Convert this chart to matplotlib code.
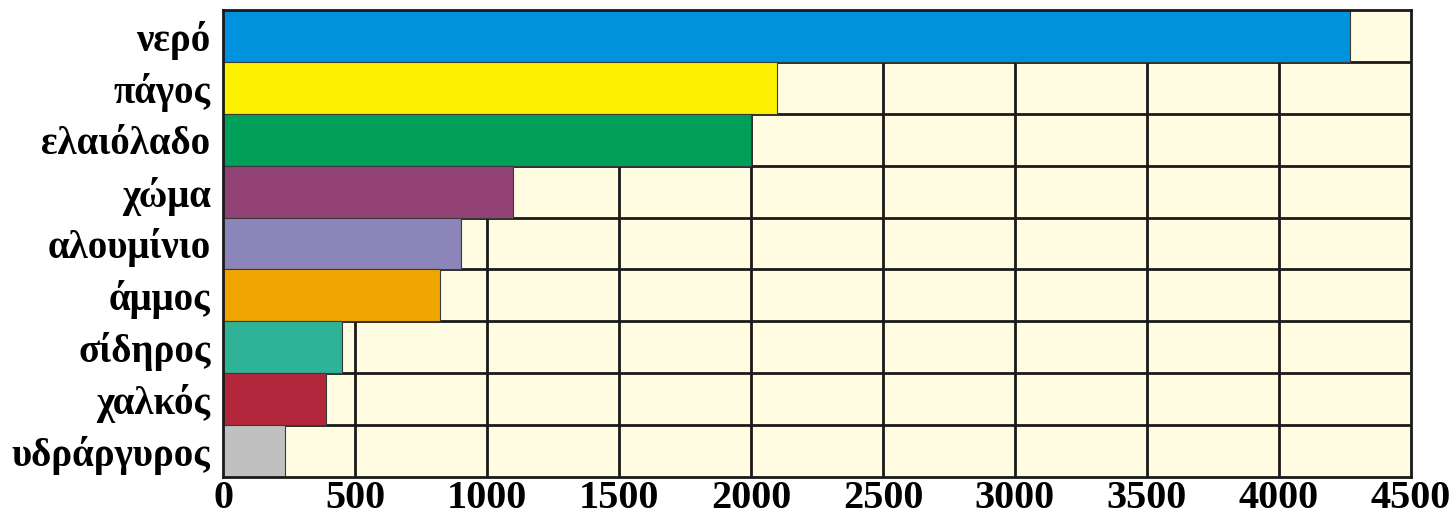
import matplotlib
matplotlib.use("Agg")
import matplotlib.pyplot as plt

materials = ["νερό", "πάγος", "ελαιόλαδο", "χώμα", "αλουμίνιο",
             "άμμος", "σίδηρος", "χαλκός", "υδράργυρος"]
values = [4270, 2100, 2000, 1100, 900, 820, 450, 390, 235]
colors = ["#0092DD", "#FFF200", "#00A05A", "#934275", "#8C85BA",
          "#F0A500", "#2EB396", "#B2253A", "#C0C0C0"]
xticks = [0, 500, 1000, 1500, 2000, 2500, 3000, 3500, 4000, 4500]

plt.rcParams['font.family'] = ['Liberation Serif', 'DejaVu Serif']

fig = plt.figure(figsize=(14.56, 5.26), dpi=100)
ax = fig.add_axes([0.1532, 0.0932, 0.969 - 0.1532, 0.981 - 0.0932])
ax.set_facecolor("#FFFCE1")

ypos = list(range(len(materials)))
ax.barh(ypos, values, height=1.0, color=colors, edgecolor="#3a3a3a",
        linewidth=0.8, zorder=3)

ax.set_xlim(0, 4500)
ax.set_ylim(len(materials) - 0.5, -0.5)

# grid: vertical lines at ticks, horizontal lines between rows
for x in xticks[1:-1]:
    ax.axvline(x, color="#1a1a1a", lw=2, zorder=1)
for i in range(len(materials) - 1):
    ax.axhline(i + 0.5, color="#1a1a1a", lw=2, zorder=2)

ax.set_yticks(ypos)
ax.set_yticklabels(materials, fontsize=28, fontweight="bold")
ax.set_xticks(xticks)
ax.set_xticklabels([str(t) for t in xticks], fontsize=29, fontweight="bold")
ax.tick_params(length=0, pad=9)
ax.tick_params(axis='x', pad=2)

for s in ax.spines.values():
    s.set_linewidth(2)
    s.set_color("#1a1a1a")
    s.set_zorder(5)

fig.savefig("out.png", dpi=100)
